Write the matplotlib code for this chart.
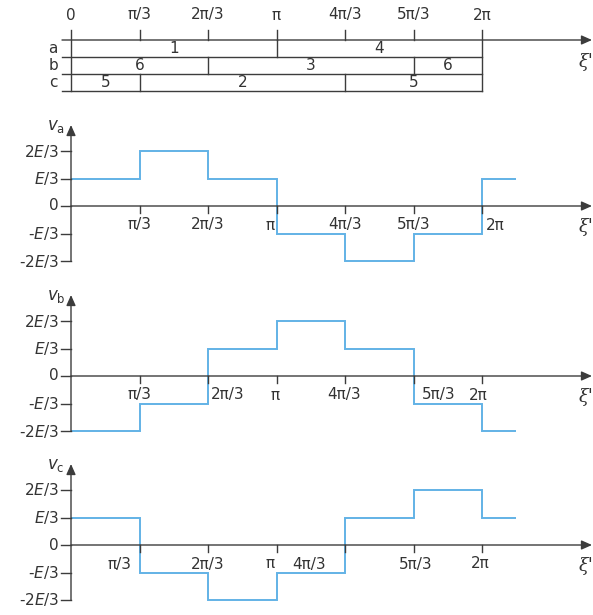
import numpy as np
import matplotlib
matplotlib.use('Agg')
import matplotlib.pyplot as plt

PI = np.pi

# ---------------- data ----------------
tick_vals = [0, PI/3, 2*PI/3, PI, 4*PI/3, 5*PI/3, 2*PI]
tick_labels = ['0', 'π/3', '2π/3', 'π', '4π/3', '5π/3', '2π']

row_names = ['a', 'b', 'c']
row_a_edges = [0, PI, 2*PI]
row_a_states = ['1', '4']
row_b_edges = [0, 2*PI/3, 5*PI/3, 2*PI]
row_b_states = ['6', '3', '6']
row_c_edges = [0, PI/3, 4*PI/3, 2*PI]
row_c_states = ['5', '2', '5']

wave_edges = [0, PI/3, 2*PI/3, PI, 4*PI/3, 5*PI/3, 2*PI, 13*PI/6]
va = [1, 2, 1, -1, -2, -1, 1]      # in units of E/3
vb = [-2, -1, 1, 2, 1, -1, -2]
vc = [1, -1, -2, -1, 1, 2, 1]

level_vals = [-2, -1, 0, 1, 2]
level_labels = ['-2$E$/3', '-$E$/3', '0', '$E$/3', '2$E$/3']

# ---------------- layout / style ----------------
W, H = 593, 615
X0 = 71.0                  # pixel of x = 0
XS = 411.0 / (2 * PI)      # pixels per radian
AX_COL = '#3c3c3c'
TXT_COL = '#333333'
WAVE_COL = '#62b2e6'
FS = 11
LW = 1.0
PT = 0.72                  # points per pixel at dpi 100

plt.rcParams['font.family'] = ['DejaVu Sans']
plt.rcParams['mathtext.fontset'] = 'dejavusans'

fig = plt.figure(figsize=(W / 100, H / 100), dpi=100)


def make_ax(y0_px, unit_px):
    ax = fig.add_axes([0, 0, 1, 1])
    ax.set_xlim(-X0 / XS, (W - X0) / XS)
    ax.set_ylim((y0_px - H) / unit_px, y0_px / unit_px)
    ax.axis('off')
    ax.patch.set_alpha(0)
    return ax


def arrow(ax, start, tip):
    ax.annotate('', xy=tip, xytext=start,
                arrowprops=dict(arrowstyle='-|>,head_length=0.45,head_width=0.2',
                                lw=LW, color=AX_COL, mutation_scale=14,
                                shrinkA=0, shrinkB=0))


# ---------------- switching table ----------------
ROW_PX = 17.0
tab = make_ax(91.0, ROW_PX)
x_left = -9.0 / XS
x_end = (592 - X0) / XS
top = len(row_names)
tick_h = 10.0 / ROW_PX

arrow(tab, (x_left, top), (x_end, top))
for r in range(top):
    tab.plot([x_left, 2 * PI], [r, r], color=AX_COL, lw=LW)
tab.plot([0, 0], [0, top + tick_h], color=AX_COL, lw=LW)
tab.plot([2 * PI, 2 * PI], [0, top + tick_h], color=AX_COL, lw=LW)
for tv in tick_vals[1:-1]:
    tab.plot([tv, tv], [top, top + tick_h], color=AX_COL, lw=LW)
for tv, tl in zip(tick_vals, tick_labels):
    tab.text(tv, (91 - 15) / ROW_PX, tl, ha='center', va='center',
             fontsize=FS, color=TXT_COL)

rows = [(row_a_edges, row_a_states), (row_b_edges, row_b_states),
        (row_c_edges, row_c_states)]
for i, (name, (edges, states)) in enumerate(zip(row_names, rows)):
    yb = top - 1 - i
    tab.text(-18.0 / XS, yb + 0.5, name, ha='center', va='center',
             fontsize=FS, color=TXT_COL)
    for e in edges[1:-1]:
        tab.plot([e, e], [yb, yb + 1], color=AX_COL, lw=LW)
    for a, b, s in zip(edges[:-1], edges[1:], states):
        tab.text((a + b) / 2, yb + 0.5, s, ha='center', va='center',
                 fontsize=FS, color=TXT_COL)
tab.text((586 - X0) / XS, (91 - 62) / ROW_PX, "ξ'", ha='center', va='center',
         fontsize=13, family='DejaVu Serif', style='italic', color=TXT_COL)

# ---------------- waveform panels ----------------
UNIT = 27.5
panels = [
    ('a', va, 206.0, [0, 0, -6, 0, 0, 13]),
    ('b', vb, 376.0, [0, 20, -1, -1, 25, -4]),
    ('c', vc, 545.0, [-20, 0, -6, -36, 2, -2]),
]

for name, vals, y0, dxs in panels:
    ax = make_ax(y0, UNIT)
    # vertical axis with arrow
    arrow(ax, (0, -2), (0, 81.0 / UNIT))
    # horizontal axis with arrow
    arrow(ax, (0, 0), (x_end, 0))
    # y ticks and labels
    for lv, ll in zip(level_vals, level_labels):
        ax.plot([-10.0 / XS, 0], [lv, lv], color=AX_COL, lw=LW)
        ax.text(-12.0 / XS, lv, ll, ha='right', va='center',
                fontsize=FS, color=TXT_COL)
    # x ticks and labels
    for tv, tl, dx in zip(tick_vals[1:], tick_labels[1:], dxs):
        ax.plot([tv, tv], [0, -7.0 / UNIT], color=AX_COL, lw=LW)
        ax.annotate(tl, xy=(tv, 0), xytext=(dx * PT, -19 * PT),
                    textcoords='offset points', ha='center', va='center',
                    fontsize=FS, color=TXT_COL)
    # waveform
    ax.stairs(vals, wave_edges, baseline=None, color=WAVE_COL, lw=1.4)
    # labels
    ax.text(-15.0 / XS, 80.0 / UNIT, r'$v_{\rm %s}$' % name, ha='center',
            va='center', fontsize=12, color=TXT_COL)
    ax.text((586 - X0) / XS, -21.0 / UNIT, "ξ'", ha='center', va='center',
            fontsize=13, family='DejaVu Serif', style='italic', color=TXT_COL)

fig.savefig('out.png', dpi=100)
